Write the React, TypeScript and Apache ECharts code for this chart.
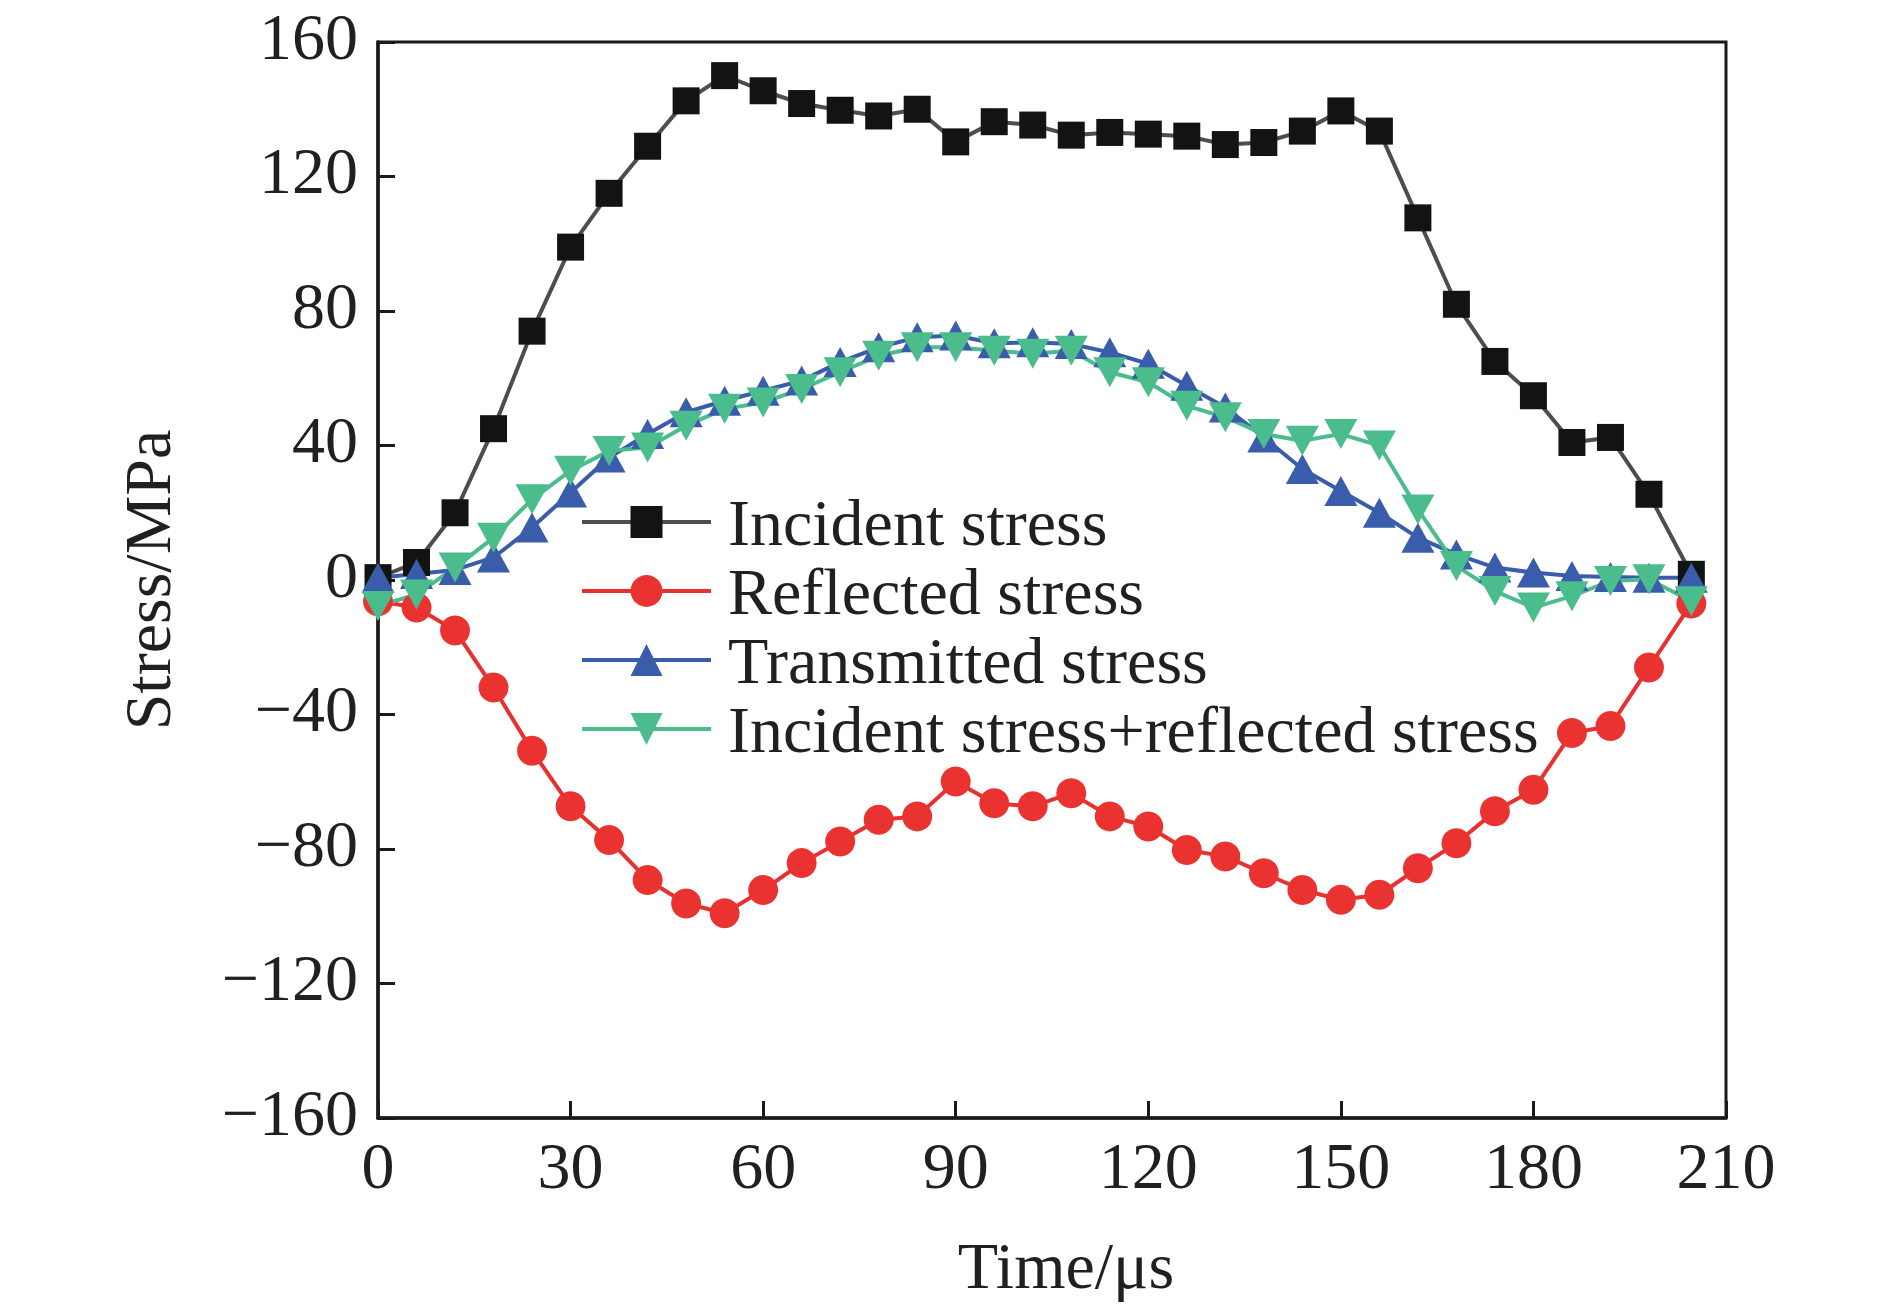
import React, { useEffect, useRef } from "react";
import * as echarts from "echarts";

const timeUs = [0, 6, 12, 18, 24, 30, 36, 42, 48, 54, 60, 66, 72, 78, 84, 90, 96, 102, 108, 114, 120, 126, 132, 138, 144, 150, 156, 162, 168, 174, 180, 186, 192, 198, 204.6];

const incidentStress = [0.7, 5.2, 20, 45, 74, 99, 115, 129, 142.5, 150, 145.5, 141.7, 139.7, 138, 140, 130.3, 136.3, 135.3, 132.3, 133.1, 132.6, 132, 129.5, 130.1, 133.5, 139.5, 133.5, 107.7, 82, 65, 54.8, 40.9, 42.4, 25.5, 1.7];

const reflectedStress = [-6.3, -8.2, -15, -32, -50.8, -67.3, -77.3, -89.2, -96.2, -99.1, -92.2, -84.2, -77.8, -71.3, -70.3, -59.9, -66.4, -67.3, -63.4, -70.3, -73.3, -80.3, -82.2, -87.2, -92.2, -95.1, -93.6, -85.7, -78.3, -68.8, -62.4, -45.5, -43.4, -26, -7];

const transmittedStress = [0.7, 1.8, 3, 6.7, 15.6, 26, 36.4, 43.4, 49.9, 53.3, 56.3, 59.3, 64.8, 69.2, 72.2, 72.7, 70.4, 70.7, 70.2, 67.7, 64.3, 57.8, 51.3, 42.4, 33, 26.5, 20, 12.6, 7.6, 3.7, 2.2, 1.2, 0.9, 0.7, 0.7];

const sumStress = [-7.7, -4.3, 3.7, 12.6, 24, 32.5, 38.4, 39.4, 45.9, 50.9, 52.8, 56.8, 61.8, 66.7, 69.2, 69.2, 68.2, 67.3, 68.2, 61.8, 58.8, 51.8, 48.4, 43.4, 41.4, 43.4, 40, 21, 4.2, -3.3, -8.2, -4.8, -0.3, 0.2, -6.3];

const seriesNames = ["Incident stress", "Reflected stress", "Transmitted stress", "Incident stress+reflected stress"];

const xTicks = { min: 0, max: 210, interval: 30 };
const yTicks = { min: -160, max: 160, interval: 40 };

const FONT = "'Liberation Serif', 'Times New Roman', 'DejaVu Serif', serif";
const TEXT = "#231f20";
const AXIS = "#1a1a1a";

function pairs(ys: number[]) {
  return ys.map((y, i) => [timeUs[i], y]);
}

export default function App() {
  const ref = useRef<HTMLDivElement>(null);
  useEffect(() => {
    if (!ref.current) return;
    const chart = echarts.init(ref.current, undefined, { renderer: "svg" });
    const mk = (name: string, data: number[], lineColor: string, markColor: string, symbol: string, size: any, rotate = 0) => ({
      name,
      type: "line",
      data: pairs(data),
      symbol,
      symbolSize: size,
      symbolRotate: rotate,
      showAllSymbol: true,
      clip: false,
      lineStyle: { color: lineColor, width: 4 },
      itemStyle: { color: markColor, opacity: 1 },
      emphasis: { disabled: true },
    });
    chart.setOption({
      animation: false,
      backgroundColor: "#ffffff",
      textStyle: { fontFamily: FONT },
      grid: { left: 378, right: 164, top: 42, bottom: 191, show: true, borderColor: AXIS, borderWidth: 3, backgroundColor: "transparent" },
      legend: {
        orient: "vertical",
        left: 575,
        top: 484,
        itemWidth: 129,
        itemHeight: 40,
        itemGap: 3,
        data: seriesNames,
        lineStyle: { width: 4 },
        textStyle: { fontSize: 66, fontFamily: FONT, color: TEXT, padding: [0, 0, 0, 12] },
      },
      xAxis: {
        type: "value",
        min: xTicks.min,
        max: xTicks.max,
        interval: xTicks.interval,
        name: "Time/μs",
        nameLocation: "middle",
        nameGap: 114,
        nameTextStyle: { fontSize: 66, fontFamily: FONT, color: TEXT, padding: [0, 0, 0, 28] },
        axisLine: { onZero: false, lineStyle: { color: AXIS, width: 3.5 } },
        axisTick: { inside: true, length: 17, lineStyle: { color: AXIS, width: 3 } },
        axisLabel: { fontSize: 66, fontFamily: FONT, color: TEXT, margin: 14 },
        splitLine: { show: false },
      },
      yAxis: {
        type: "value",
        min: yTicks.min,
        max: yTicks.max,
        interval: yTicks.interval,
        name: "Stress/MPa",
        nameLocation: "middle",
        nameGap: 198,
        nameTextStyle: { fontSize: 66, fontFamily: FONT, color: TEXT },
        axisLine: { onZero: false, lineStyle: { color: AXIS, width: 3.5 } },
        axisTick: { inside: true, length: 17, lineStyle: { color: AXIS, width: 3 } },
        axisLabel: {
          fontSize: 66,
          fontFamily: FONT,
          color: TEXT,
          margin: 20,
          formatter: (v: number) => "{t|" + (v < 0 ? "\u2212" + Math.abs(v) : String(v)) + "}",
          rich: {
            t: { fontSize: 66, fontFamily: FONT, color: TEXT, padding: [0, 0, 12, 0] },
          },
        },
        splitLine: { show: false },
      },
      series: [
        mk(seriesNames[0], incidentStress, "#4d4d4d", "#121412", "rect", 27),
        mk(seriesNames[1], reflectedStress, "#e8302e", "#ea3330", "circle", 30),
        mk(seriesNames[2], transmittedStress, "#3a5dab", "#3a5dab", "triangle", [33, 30]),
        mk(seriesNames[3], sumStress, "#4bbd8c", "#4bbd8c", "triangle", [33, 30], 180),
      ],
    });
    return () => chart.dispose();
  }, []);
  return <div ref={ref} style={{ position: "absolute", left: 0, top: 0, width: 1890, height: 1309 }} />;
}
